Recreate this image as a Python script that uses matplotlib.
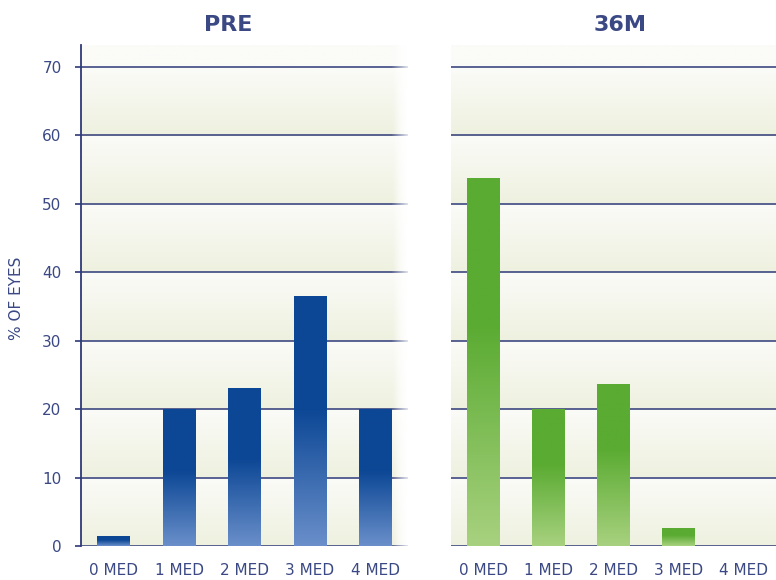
import numpy as np
import matplotlib
matplotlib.use("Agg")
import matplotlib.pyplot as plt
from matplotlib.colors import to_rgb

# percent of eyes by number of medications, before and at 36 months
categories = ["0 MED", "1 MED", "2 MED", "3 MED", "4 MED"]
pre_values = [1.5, 20, 23.1, 36.5, 20]
m36_values = [53.8, 20, 23.7, 2.6, 0]
y_ticks = [0, 10, 20, 30, 40, 50, 60, 70]
panel_titles = ["PRE", "36M"]

NAVY = "#3a4884"
GRID = "#2e3a78"
YMAX = 73.2


def background(ax, fade_right):
    # light banded backdrop: each 10-unit band goes from pale green at the bottom to white at the top
    ys = np.linspace(0, YMAX, 600)
    green = np.array(to_rgb("#eef1df"))
    white = np.array(to_rgb("#fbfbf8"))
    frac = (ys % 10) / 10.0
    frac[ys >= 70] = 1.0
    col = green[None, :] * (1 - frac[:, None]) + white[None, :] * frac[:, None]
    img = np.repeat(col[:, None, :], 300, axis=1)
    if fade_right:
        xs = np.linspace(0, 1, 300)
        w = np.clip((xs - 0.96) / 0.04, 0, 1)
        img = img * (1 - w[None, :, None]) + np.ones(3) * w[None, :, None]
    ax.imshow(img, extent=[-0.5, 4.5, 0, YMAX], origin="lower", aspect="auto", zorder=0)


def gradient_bars(ax, values, top, bottom, hold):
    bars = ax.bar(range(len(values)), values, width=0.5, color="none", zorder=3)
    c_top = np.array(to_rgb(top))
    c_bot = np.array(to_rgb(bottom))
    for patch in bars:
        x, w, h = patch.get_x(), patch.get_width(), patch.get_height()
        if h <= 0:
            continue
        t = np.linspace(0, 1, 256)  # 0 at bottom, 1 at top
        k = np.clip(t / hold, 0, 1)
        col = c_bot[None, :] * (1 - k[:, None]) + c_top[None, :] * k[:, None]
        img = col[:, None, :]
        im = ax.imshow(img, extent=[x, x + w, 0, h], origin="lower", aspect="auto", zorder=3)
        im.set_clip_path(patch)


fig = plt.figure(figsize=(7.76, 5.80), dpi=100)
ax1 = fig.add_axes([81 / 776, 34 / 580, 327 / 776, 501 / 580])
ax2 = fig.add_axes([451 / 776, 34 / 580, 325 / 776, 501 / 580])

for ax, vals, left in [(ax1, pre_values, True), (ax2, m36_values, False)]:
    background(ax, fade_right=left)
    for v in y_ticks:
        ax.axhline(v, color=GRID, lw=1.3, alpha=0.85, zorder=1)
    if left:
        # soften the grid lines where they run out on the right
        xs = np.linspace(0, 1, 300)
        a = np.clip((xs - 0.95) / 0.05, 0, 1) * 0.8
        fade = np.zeros((1, 300, 4))
        fade[..., :3] = 1.0
        fade[0, :, 3] = a
        ax.imshow(fade, extent=[-0.5, 4.5, 0, YMAX], origin="lower", aspect="auto", zorder=2)
    ax.set_xlim(-0.5, 4.5)
    ax.set_ylim(0, YMAX)
    ax.set_xticks(range(len(categories)))
    ax.set_xticklabels(categories, fontsize=11, color=NAVY)
    ax.tick_params(axis="x", length=0, pad=12)
    for s in ["top", "right", "bottom"]:
        ax.spines[s].set_visible(False)

gradient_bars(ax1, pre_values, "#0c4795", "#6a8fca", 0.55)
gradient_bars(ax2, m36_values, "#5aab32", "#a8d17f", 0.6)

ax1.set_yticks(y_ticks)
ax1.set_yticklabels([str(v) for v in y_ticks], fontsize=11, color=NAVY)
ax1.tick_params(axis="y", length=4, width=1.2, color=GRID, pad=10)
ax1.spines["left"].set_color(GRID)
ax1.spines["left"].set_linewidth(1.3)

ax2.set_yticks([])
ax2.spines["left"].set_visible(False)

fig.text(17 / 776, 1 - 298 / 580, "% OF EYES", rotation=90, ha="center", va="center",
         fontsize=11, color=NAVY)
fig.text(228 / 776, 1 - 25 / 580, panel_titles[0], ha="center", va="center",
         fontsize=16, fontweight="bold", color=NAVY)
fig.text(620 / 776, 1 - 25 / 580, panel_titles[1], ha="center", va="center",
         fontsize=16, fontweight="bold", color=NAVY)

fig.savefig("out.png", dpi=100)
